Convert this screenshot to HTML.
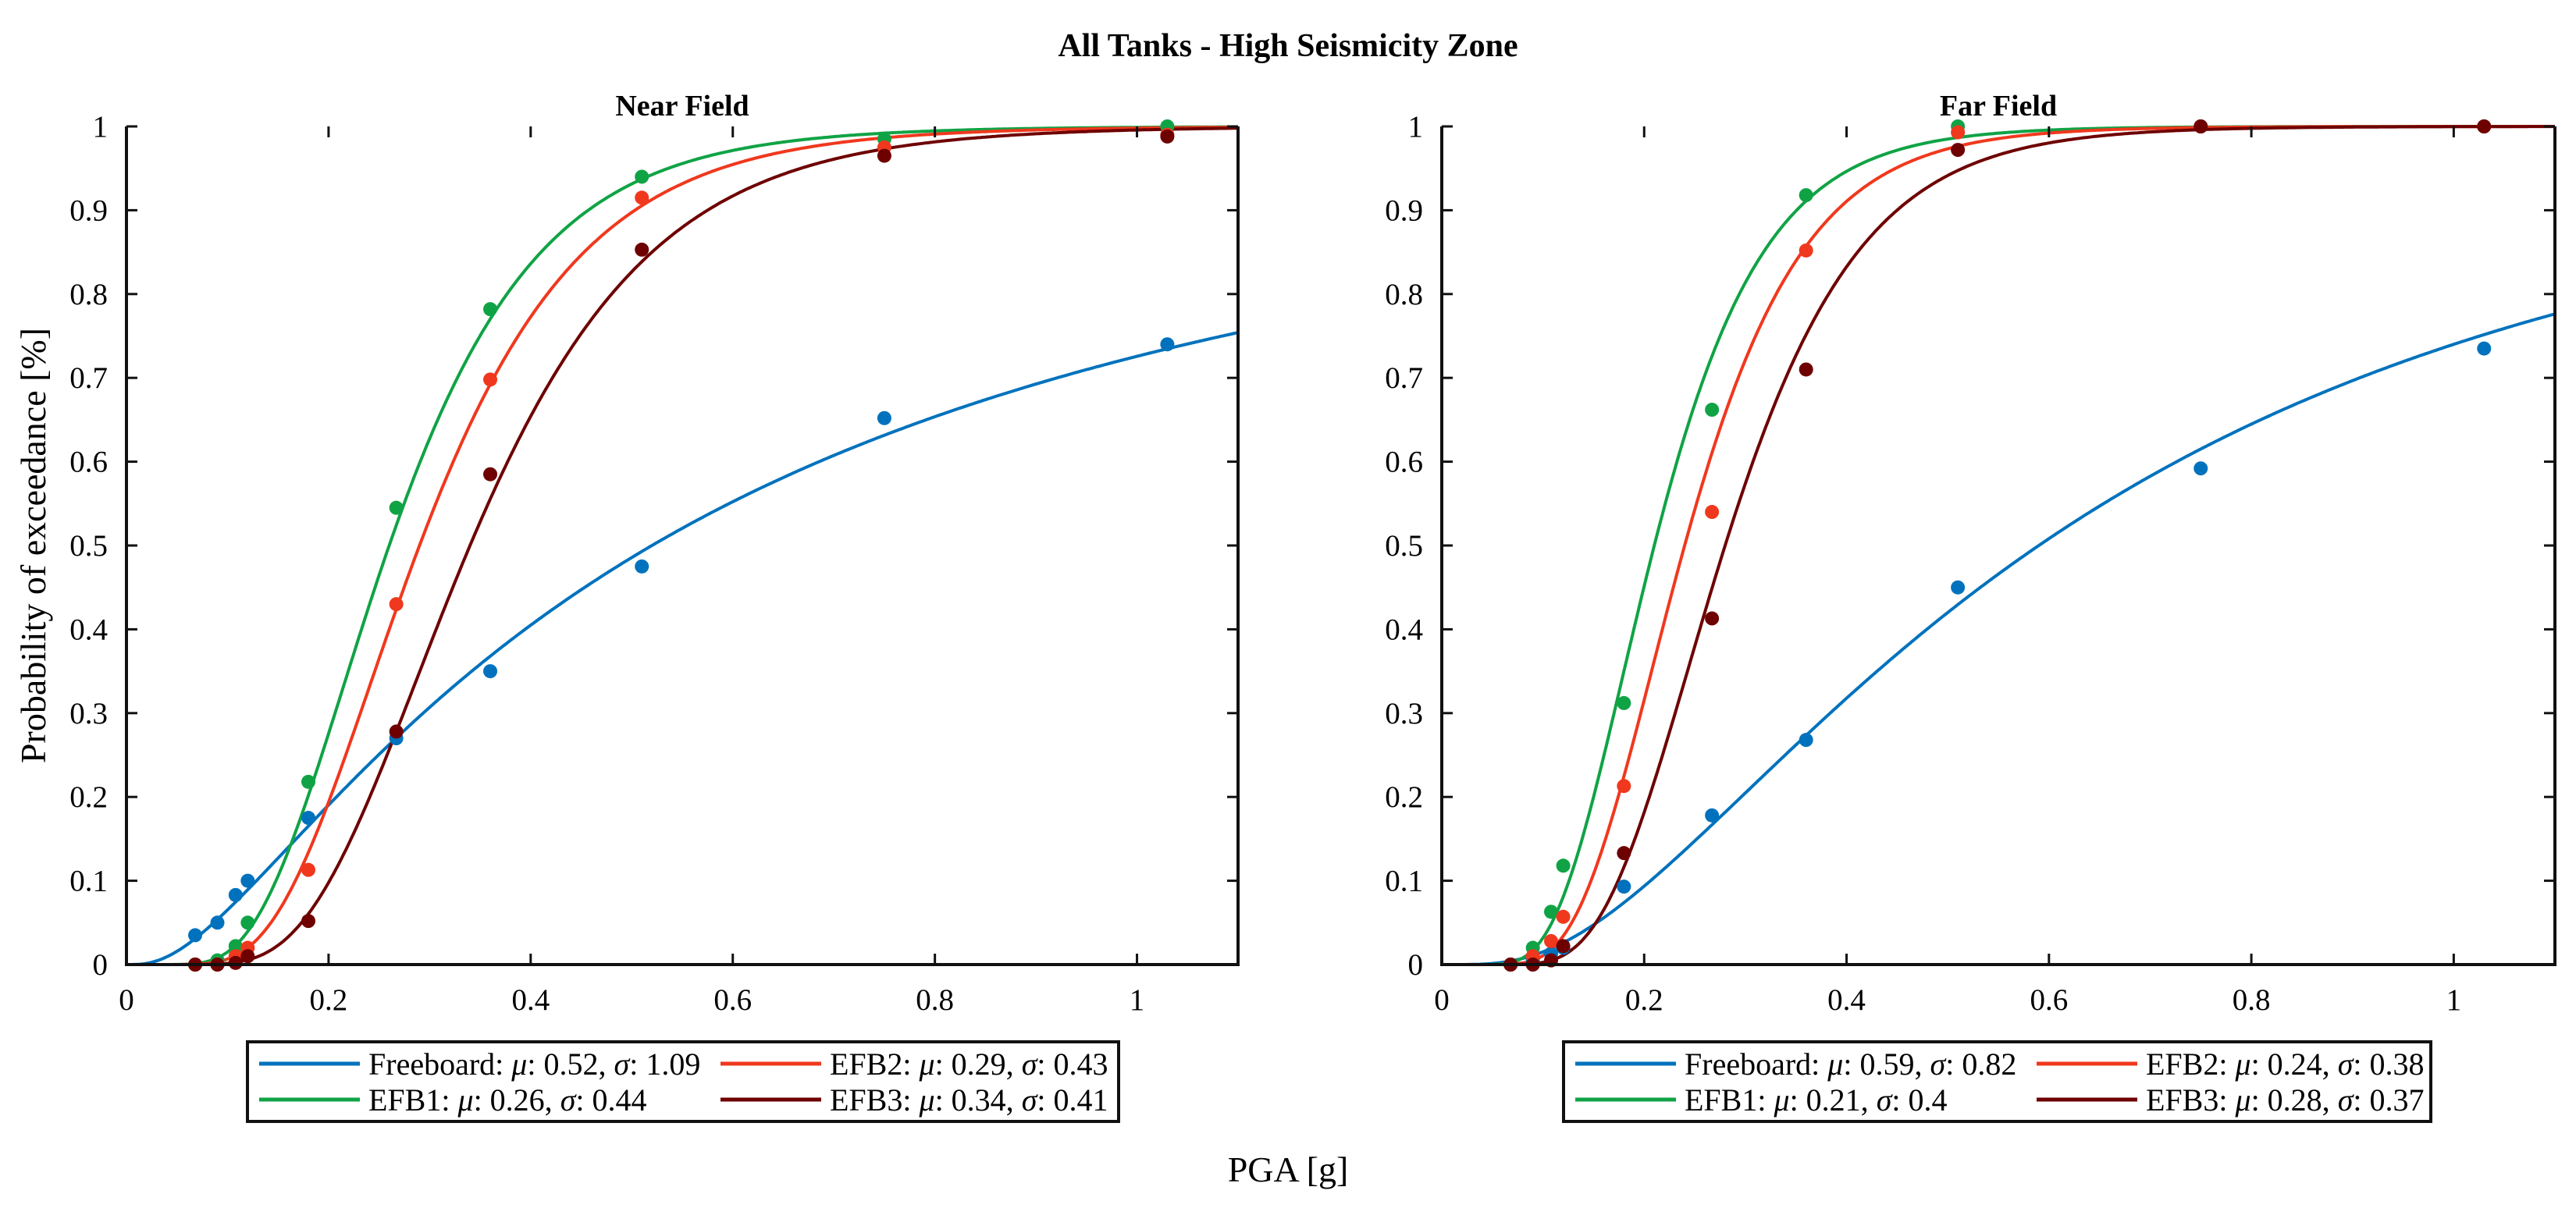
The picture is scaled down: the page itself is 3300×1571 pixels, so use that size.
<!DOCTYPE html>
<html><head><meta charset="utf-8"><style>
html,body{margin:0;padding:0;background:#fff;}
svg{display:block;font-family:"Liberation Serif",serif;}
</style></head><body>
<svg id="chart" width="3300" height="1571" viewBox="0 0 3300 1571" xmlns="http://www.w3.org/2000/svg">
<text x="1650" y="72" text-anchor="middle" font-size="42" font-weight="bold">All Tanks - High Seismicity Zone</text>
<text transform="translate(58,699) rotate(-90)" text-anchor="middle" font-size="46">Probability of exceedance [%]</text>
<text x="1650" y="1514" text-anchor="middle" font-size="46">PGA [g]</text>
</svg>
<script>
const xTicks = [0, 0.2, 0.4, 0.6, 0.8, 1];
const xTickLabels = ["0", "0.2", "0.4", "0.6", "0.8", "1"];
const yTicks = [0, 0.1, 0.2, 0.3, 0.4, 0.5, 0.6, 0.7, 0.8, 0.9, 1];
const yTickLabels = ["0", "0.1", "0.2", "0.3", "0.4", "0.5", "0.6", "0.7", "0.8", "0.9", "1"];
const seriesNames = ["Freeboard", "EFB1", "EFB2", "EFB3"];
const pgaPoints = [0.068, 0.09, 0.108, 0.12, 0.18, 0.267, 0.36, 0.51, 0.75, 1.03];
const nearMu = [0.52, 0.26, 0.29, 0.34];
const nearSigma = [1.09, 0.44, 0.43, 0.41];
const nearFreeboard = [0.035, 0.05, 0.083, 0.1, 0.175, 0.27, 0.35, 0.475, 0.652, 0.74];
const nearEFB1 = [0, 0.005, 0.022, 0.05, 0.218, 0.545, 0.782, 0.94, 0.985, 1.0];
const nearEFB2 = [0, 0, 0.01, 0.02, 0.113, 0.43, 0.698, 0.915, 0.975, 0.99];
const nearEFB3 = [0, 0, 0.002, 0.01, 0.052, 0.278, 0.585, 0.853, 0.965, 0.988];
const farMu = [0.59, 0.21, 0.24, 0.28];
const farSigma = [0.82, 0.4, 0.38, 0.37];
const farFreeboard = [0, 0.005, 0.013, 0.02, 0.093, 0.178, 0.268, 0.45, 0.592, 0.735];
const farEFB1 = [0, 0.02, 0.063, 0.118, 0.312, 0.662, 0.918, 1.0, 1.0, 1.0];
const farEFB2 = [0, 0.01, 0.028, 0.057, 0.213, 0.54, 0.852, 0.993, 1.0, 1.0];
const farEFB3 = [0, 0, 0.005, 0.022, 0.133, 0.413, 0.71, 0.972, 1.0, 1.0];
const muLabelsNear = ["0.52", "0.26", "0.29", "0.34"];
const sigmaLabelsNear = ["1.09", "0.44", "0.43", "0.41"];
const muLabelsFar = ["0.59", "0.21", "0.24", "0.28"];
const sigmaLabelsFar = ["0.82", "0.4", "0.38", "0.37"];

const colors = ["#0072BD", "#10A345", "#F0381E", "#6E0000"];
const NS = "http://www.w3.org/2000/svg";
const svg = document.getElementById("chart");
function mk(tag, attrs, parent) {
  const e = document.createElementNS(NS, tag);
  for (const k in attrs) e.setAttribute(k, attrs[k]);
  (parent || svg).appendChild(e);
  return e;
}
function erf(x) {
  const s = x < 0 ? -1 : 1; x = Math.abs(x);
  const t = 1 / (1 + 0.3275911 * x);
  const y = 1 - (((((1.061405429 * t - 1.453152027) * t) + 1.421413741) * t - 0.284496736) * t + 0.254829592) * t * Math.exp(-x * x);
  return s * y;
}
function lognCdf(x, mu, sig) {
  if (x <= 0) return 0;
  return 0.5 * (1 + erf(Math.log(x / mu) / (sig * Math.SQRT2)));
}

function panel(cfg) {
  const L = cfg.left, R = cfg.right, T = 162, B = 1236;
  const xs = v => L + (v / 1.1) * (R - L);
  const ys = v => B - v * (B - T);
  const g = mk("g", {});
  
  
  const sub = mk("text", {x: (L + R) / 2, y: 148, "text-anchor": "middle", "font-size": 38, "font-weight": "bold"}, g);
  sub.textContent = cfg.title;
  
  
  const clipId = "clip" + cfg.name;
  const cp = mk("clipPath", {id: clipId}, g);
  mk("rect", {x: L, y: T - 6, width: R - L, height: B - T + 12}, cp);
  for (let s = 0; s < 4; s++) {
    let d = "";
    for (let i = 0; i <= 440; i++) {
      const x = 1.1 * i / 440;
      const p = lognCdf(x, cfg.mu[s], cfg.sigma[s]);
      d += (i ? "L" : "M") + xs(x).toFixed(1) + " " + ys(p).toFixed(1);
    }
    const path = mk("path", {d: d, fill: "none", stroke: colors[s], "stroke-width": 4, "clip-path": "url(#" + clipId + ")"}, g);
    
    
  }
  for (let s = 0; s < 4; s++) {
    const vals = cfg.points[s];
    for (let i = 0; i < pgaPoints.length; i++) {
      const c = mk("circle", {cx: xs(pgaPoints[i]), cy: ys(vals[i]), r: 9, fill: colors[s]}, g);
      
      
    }
  }
  const box = mk("path", {d: `M${L} ${T}V${B}H${R}V${T}`, fill: "none", stroke: "#111", "stroke-width": 4}, g);
  
  
  for (let i = 0; i < xTicks.length; i++) {
    const x = xs(xTicks[i]);
    mk("line", {x1: x, x2: x, y1: B, y2: B - 14, stroke: "#111", "stroke-width": 3}, g);
    mk("line", {x1: x, x2: x, y1: T, y2: T + 14, stroke: "#111", "stroke-width": 3}, g);
    const t = mk("text", {x: x, y: B + 58, "text-anchor": "middle", "font-size": 39}, g);
    t.textContent = xTickLabels[i];
    
    
  }
  for (let i = 0; i < yTicks.length; i++) {
    const y = ys(yTicks[i]);
    mk("line", {x1: L, x2: L + 14, y1: y, y2: y, stroke: "#111", "stroke-width": 3}, g);
    mk("line", {x1: R, x2: R - 14, y1: y, y2: y, stroke: "#111", "stroke-width": 3}, g);
    const t = mk("text", {x: L - 24, y: y + 13, "text-anchor": "end", "font-size": 39}, g);
    t.textContent = yTickLabels[i];
    
    
  }
  const lg = mk("g", {}, g);
  
  
  const LX = cfg.legX, LW = cfg.legW, LT = 1335, LB = 1437;
  mk("rect", {x: LX, y: LT, width: LW, height: LB - LT, fill: "#fff", stroke: "#111", "stroke-width": 4}, lg);
  const order = [[0, 0, 0], [1, 0, 1], [2, 1, 0], [3, 1, 1]];
  for (const [s, col, row] of order) {
    const x0 = LX + 15 + col * cfg.col2;
    const y = 1363 + row * 46;
    const ln = mk("line", {x1: x0, x2: x0 + 129, y1: y, y2: y, stroke: colors[s], "stroke-width": 5}, lg);
    
    
    const t = mk("text", {x: x0 + 140, y: y + 14, "font-size": 40}, lg);
    
    
    t.innerHTML = seriesNames[s] + ': <tspan font-style="italic">μ</tspan>: ' + cfg.muL[s] + ', <tspan font-style="italic">σ</tspan>: ' + cfg.sigL[s];
  }
}
panel({name: "near-field-panel", title: "Near Field", left: 162, right: 1586, mu: nearMu, sigma: nearSigma,
  points: [nearFreeboard, nearEFB1, nearEFB2, nearEFB3], legX: 317, legW: 1116, col2: 591, muL: muLabelsNear, sigL: sigmaLabelsNear});
panel({name: "far-field-panel", title: "Far Field", left: 1847, right: 3273, mu: farMu, sigma: farSigma,
  points: [farFreeboard, farEFB1, farEFB2, farEFB3], legX: 2003, legW: 1111, col2: 591, muL: muLabelsFar, sigL: sigmaLabelsFar});
</script>
</body></html>
